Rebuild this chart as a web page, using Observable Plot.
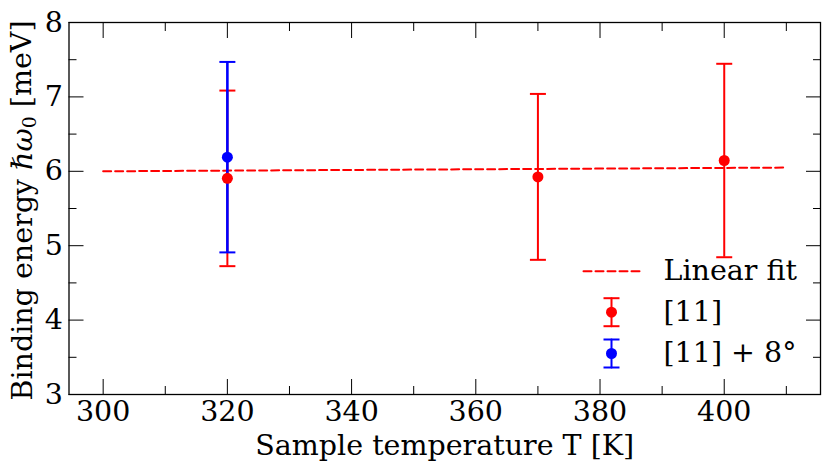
<!DOCTYPE html>
<html>
<head>
<meta charset="utf-8">
<script src="https://cdn.jsdelivr.net/npm/d3@7"></script>
<script src="https://cdn.jsdelivr.net/npm/@observablehq/plot@0.6"></script>
<style>
  html, body { margin: 0; padding: 0; background: white; }
  #chart { width: 831px; height: 472px; }
</style>
</head>
<body>
<div id="chart"></div>
<script>
// ---- data ----
const redT = [320, 370, 400];
const redE = [5.905, 5.925, 6.145];
const redErr = [1.18, 1.115, 1.30];

const blueT = [320];
const blueE = [6.19];
const blueErr = [1.28];

const fitT = [300, 410];
const fitE = [6.0, 6.05];

const xMajor = [300, 320, 340, 360, 380, 400];
const xMinor = [310, 330, 350, 370, 390, 410];
const yMajor = [3, 4, 5, 6, 7, 8];
const yMinor = [3.5, 4.5, 5.5, 6.5, 7.5];

const legendLabels = ["Linear fit", "[11]", "[11] + 8°"];

// ---- tables ----
const red = redT.map((t, i) => ({t, e: redE[i], lo: redE[i] - redErr[i], hi: redE[i] + redErr[i]}));
const blue = blueT.map((t, i) => ({t, e: blueE[i], lo: blueE[i] - blueErr[i], hi: blueE[i] + blueErr[i]}));
const fit = fitT.map((t, i) => ({t, e: fitE[i]}));

const RED = "#ff0000", BLUE = "#0000ff";
const FONT = "DejaVu Serif";
const FS = 28.5;

const hline = {
  draw(context, size) {
    const w = Math.sqrt(size / Math.PI);
    context.moveTo(-w, 0);
    context.lineTo(w, 0);
  }
};
const segShape = {
  draw(context, l) {
    context.moveTo(0, 0);
    context.lineTo(0, -l);
  }
};

const ML = 68.5, MT = 22;
// legend helpers (pixel offsets from top-left of frame)
function legendBar(color, cy) {
  return [
    Plot.vector([0], {frameAnchor: "top-left", dx: 611 - ML, dy: cy - MT, length: 28, anchor: "middle", shape: segShape, stroke: color, strokeWidth: 2}),
    Plot.dot([0], {frameAnchor: "top-left", dx: 611 - ML, dy: cy - MT - 14, r: 8, symbol: hline, stroke: color, strokeWidth: 2, fill: "none"}),
    Plot.dot([0], {frameAnchor: "top-left", dx: 611 - ML, dy: cy - MT + 14, r: 8, symbol: hline, stroke: color, strokeWidth: 2, fill: "none"}),
    Plot.dot([0], {frameAnchor: "top-left", dx: 611 - ML, dy: cy - MT, r: 5.5, fill: color, stroke: "none"})
  ];
}
function legendText(label, cy) {
  return Plot.text([label], {frameAnchor: "top-left", dx: 663 - ML, dy: cy - MT, text: d => d, textAnchor: "start", lineAnchor: "middle", fontSize: FS, fill: "black"});
}

const chart = Plot.plot({
  width: 831,
  height: 472,
  marginLeft: ML,
  marginRight: 11,
  marginTop: MT,
  marginBottom: 78,
  x: {domain: [294.5, 415.5]},
  y: {domain: [3, 8]},
  style: {fontFamily: FONT, fontSize: FS + "px", background: "white", color: "black"},
  marks: [
    // fit line
    Plot.line(fit, {x: "t", y: "e", stroke: RED, strokeWidth: 2, strokeDasharray: "8,4"}),
    // red error bars
    Plot.ruleX(red, {x: "t", y1: "lo", y2: "hi", stroke: RED, strokeWidth: 2}),
    Plot.dot(red, {x: "t", y: "lo", r: 8, symbol: hline, stroke: RED, strokeWidth: 2, fill: "none"}),
    Plot.dot(red, {x: "t", y: "hi", r: 8, symbol: hline, stroke: RED, strokeWidth: 2, fill: "none"}),
    // blue error bars
    Plot.ruleX(blue, {x: "t", y1: "lo", y2: "hi", stroke: BLUE, strokeWidth: 2.6}),
    Plot.dot(blue, {x: "t", y: "lo", r: 8, symbol: hline, stroke: BLUE, strokeWidth: 2, fill: "none"}),
    Plot.dot(blue, {x: "t", y: "hi", r: 8, symbol: hline, stroke: BLUE, strokeWidth: 2, fill: "none"}),
    // points
    Plot.dot(red, {x: "t", y: "e", r: 5.5, fill: RED, stroke: "none"}),
    Plot.dot(blue, {x: "t", y: "e", r: 5.5, fill: BLUE, stroke: "none"}),

    // inward ticks: bottom / top
    Plot.axisX({anchor: "bottom", ticks: xMajor, tickSize: 15, dy: -15, tickFormat: () => "", label: null, stroke: "black"}),
    Plot.axisX({anchor: "bottom", ticks: xMinor, tickSize: 8, dy: -8, tickFormat: () => "", label: null, stroke: "black"}),
    Plot.axisX({anchor: "top", ticks: xMajor, tickSize: 15, dy: 15, tickFormat: () => "", label: null, stroke: "black"}),
    Plot.axisX({anchor: "top", ticks: xMinor, tickSize: 8, dy: 8, tickFormat: () => "", label: null, stroke: "black"}),
    // inward ticks: left / right
    Plot.axisY({anchor: "left", ticks: yMajor, tickSize: 15, dx: 15, tickFormat: () => "", label: null, stroke: "black"}),
    Plot.axisY({anchor: "left", ticks: yMinor, tickSize: 8, dx: 8, tickFormat: () => "", label: null, stroke: "black"}),
    Plot.axisY({anchor: "right", ticks: yMajor, tickSize: 15, dx: -15, tickFormat: () => "", label: null, stroke: "black"}),
    Plot.axisY({anchor: "right", ticks: yMinor, tickSize: 8, dx: -8, tickFormat: () => "", label: null, stroke: "black"}),

    // tick labels
    Plot.axisX({anchor: "bottom", ticks: xMajor, tickSize: 0, tickPadding: 6, tickFormat: d => String(d), label: null, fontSize: FS, fill: "black"}),
    Plot.axisY({anchor: "left", ticks: yMajor, tickSize: 0, tickPadding: 6, tickFormat: d => String(d), label: null, fontSize: FS, fill: "black"}),

    // axis titles
    Plot.text(["Sample temperature T [K]"], {frameAnchor: "bottom", dy: 60, text: d => d, lineAnchor: "bottom", fontSize: FS, fill: "black"}),
    Plot.text(["Binding energy ℏω0 [meV]"], {frameAnchor: "left", dx: -46.5, dy: 2, rotate: -90, text: d => d, textAnchor: "middle", lineAnchor: "middle", fontSize: FS, fill: "black", className: "ylab"}),

    // legend
    Plot.vector([0], {frameAnchor: "top-left", dx: 583 - ML, dy: 270.7 - MT, length: 57, rotate: 90, anchor: "start", shape: segShape, stroke: RED, strokeWidth: 2, strokeDasharray: "8,4"}),
    legendText(legendLabels[0], 270.7),
    ...legendBar(RED, 311.7),
    legendText(legendLabels[1], 311.7),
    ...legendBar(BLUE, 353),
    legendText(legendLabels[2], 352),

    Plot.frame({stroke: "black", strokeWidth: 1.3})
  ]
});

document.getElementById("chart").appendChild(chart);

// Rich y-label: italic ħω with subscript 0
const yl = d3.select(chart).select(".ylab text");
if (!yl.empty()) {
  yl.text(null);
  yl.append("tspan").text("Binding energy ");
  yl.append("tspan").attr("font-style", "italic").text("ℏω");
  yl.append("tspan").attr("font-size", "19").attr("dy", "0.25em").text("0");
  yl.append("tspan").attr("dy", "-0.18em").text(" [meV]");
}
</script>
</body>
</html>
